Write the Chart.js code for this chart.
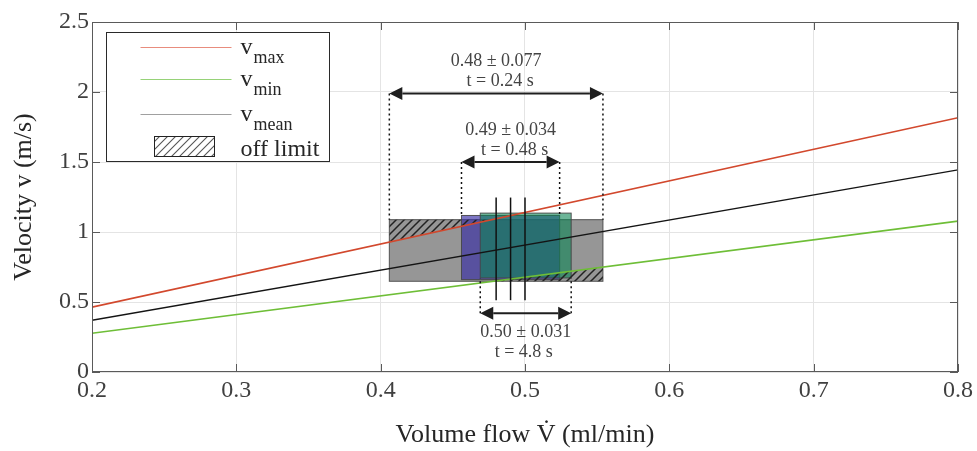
<!DOCTYPE html>
<html>
<head>
<meta charset="utf-8">
<script src="https://cdn.jsdelivr.net/npm/chart.js@4.4.0/dist/chart.umd.min.js"></script>
<style>
  html, body { margin: 0; padding: 0; background: #fff; }
  #wrap { width: 977px; height: 451px; }
</style>
</head>
<body>
<div id="wrap"><canvas id="chart"></canvas></div>
<script>
// velocity lines (linear in flow)
const flowEnds = [0.2, 0.8];
const vMax = [0.463, 1.816];
const vMean = [0.370, 1.444];
const vMin = [0.277, 1.078];

const xTicks = [0.2, 0.3, 0.4, 0.5, 0.6, 0.7, 0.8];
const yTicks = [0, 0.5, 1, 1.5, 2, 2.5];

// measuring windows: grey, blue, green
const winMean = [0.48, 0.49, 0.50];
const winStd = [0.077, 0.034, 0.031];
const winTime = ['t = 0.24 s', 't = 0.48 s', 't = 4.8 s'];
const boxFlowLo = [0.406, 0.456, 0.469];
const boxFlowHi = [0.554, 0.524, 0.532];
const boxVLo = [0.648, 0.660, 0.672];
const boxVHi = [1.088, 1.118, 1.135];
const arrowV = [1.99, 1.50, 0.42];
const meanLineV = [0.513, 1.246];

const SERIF = '"Liberation Serif", "Times New Roman", serif';
const boxFill = ['rgb(150,150,150)', 'rgba(55,45,165,0.65)', 'rgba(10,131,83,0.6)'];

function toPts(ys) {
  return flowEnds.map((x, i) => ({ x, y: ys[i] }));
}

function makeHatch(color, bg, lw) {
  const c = document.createElement('canvas');
  c.width = 8; c.height = 8;
  const g = c.getContext('2d');
  if (bg) { g.fillStyle = bg; g.fillRect(0, 0, 8, 8); }
  g.strokeStyle = color;
  g.lineWidth = lw;
  g.beginPath();
  g.moveTo(-1, 9); g.lineTo(9, -1);
  g.moveTo(-1, 1); g.lineTo(1, -1);
  g.moveTo(7, 9); g.lineTo(9, 7);
  g.stroke();
  return g.createPattern(c, 'repeat');
}

function arrow(ctx, x0, x1, y) {
  const hl = 13, hw = 6.5;
  ctx.strokeStyle = '#1e1e1e';
  ctx.fillStyle = '#1e1e1e';
  ctx.lineWidth = 2;
  ctx.beginPath();
  ctx.moveTo(x0 + hl, y); ctx.lineTo(x1 - hl, y);
  ctx.stroke();
  ctx.beginPath();
  ctx.moveTo(x0, y); ctx.lineTo(x0 + hl, y - hw); ctx.lineTo(x0 + hl, y + hw); ctx.closePath();
  ctx.moveTo(x1, y); ctx.lineTo(x1 - hl, y - hw); ctx.lineTo(x1 - hl, y + hw); ctx.closePath();
  ctx.fill();
}

function lineAt(ys, x) {
  return ys[0] + (ys[1] - ys[0]) * (x - flowEnds[0]) / (flowEnds[1] - flowEnds[0]);
}

const boxesPlugin = {
  id: 'boxes',
  beforeDatasetsDraw(chart) {
    const { ctx, chartArea: ca, scales: { x, y } } = chart;
    ctx.save();
    ctx.beginPath(); ctx.rect(ca.left, ca.top, ca.width, ca.height); ctx.clip();
    for (let i = 0; i < boxFill.length; i++) {
      const l = x.getPixelForValue(boxFlowLo[i]), r = x.getPixelForValue(boxFlowHi[i]);
      const t = y.getPixelForValue(boxVHi[i]), b = y.getPixelForValue(boxVLo[i]);
      ctx.fillStyle = boxFill[i];
      ctx.fillRect(l, t, r - l, b - t);
      ctx.strokeStyle = 'rgba(70,70,70,0.9)';
      ctx.lineWidth = 1;
      ctx.strokeRect(l, t, r - l, b - t);
    }
    // off limit hatching inside grey window
    const l = x.getPixelForValue(boxFlowLo[0]), r = x.getPixelForValue(boxFlowHi[0]);
    const t = y.getPixelForValue(boxVHi[0]), b = y.getPixelForValue(boxVLo[0]);
    ctx.save();
    ctx.beginPath(); ctx.rect(l, t, r - l, b - t); ctx.clip();
    ctx.fillStyle = makeHatch('#222', null, 1.5);
    ctx.beginPath();
    ctx.moveTo(l, y.getPixelForValue(lineAt(vMax, boxFlowLo[0])));
    ctx.lineTo(r, y.getPixelForValue(lineAt(vMax, boxFlowHi[0])));
    ctx.lineTo(r, t - 5); ctx.lineTo(l, t - 5); ctx.closePath();
    ctx.fill();
    ctx.beginPath();
    ctx.moveTo(l, y.getPixelForValue(lineAt(vMin, boxFlowLo[0])));
    ctx.lineTo(r, y.getPixelForValue(lineAt(vMin, boxFlowHi[0])));
    ctx.lineTo(r, b + 5); ctx.lineTo(l, b + 5); ctx.closePath();
    ctx.fill();
    ctx.restore();
    ctx.restore();
  },
  afterDatasetsDraw(chart) {
    const { ctx, scales: { x, y } } = chart;
    ctx.save();
    // mean lines
    ctx.strokeStyle = '#111';
    ctx.lineWidth = 1.5;
    winMean.forEach(m => {
      const px = x.getPixelForValue(m);
      ctx.beginPath();
      ctx.moveTo(px, y.getPixelForValue(meanLineV[1]));
      ctx.lineTo(px, y.getPixelForValue(meanLineV[0]));
      ctx.stroke();
    });
    // dotted guides + arrows + labels
    ctx.font = '18px ' + SERIF;
    ctx.textAlign = 'center';
    ctx.textBaseline = 'middle';
    for (let i = 0; i < winMean.length; i++) {
      const l = x.getPixelForValue(boxFlowLo[i]), r = x.getPixelForValue(boxFlowHi[i]);
      const ay = y.getPixelForValue(arrowV[i]);
      const below = arrowV[i] < boxVLo[i];
      const edge = below ? y.getPixelForValue(boxVLo[i]) : y.getPixelForValue(boxVHi[i]);
      ctx.strokeStyle = '#111';
      ctx.lineWidth = 1.5;
      ctx.setLineDash([2, 3]);
      [l, r].forEach(px => {
        ctx.beginPath(); ctx.moveTo(px, ay); ctx.lineTo(px, edge); ctx.stroke();
      });
      ctx.setLineDash([]);
      arrow(ctx, l, r, ay);
      const cx = (l + r) / 2;
      const txt = winMean[i].toFixed(2) + ' \u00b1 ' + winStd[i];
      ctx.fillStyle = '#444';
      if (below) {
        ctx.fillText(txt, cx, ay + 19);
        ctx.fillText(winTime[i], cx - 2, ay + 39);
      } else {
        ctx.fillText(txt, cx, ay - 32);
        ctx.fillText(winTime[i], cx + 4, ay - 12);
      }
    }
    ctx.restore();
  },
  afterDraw(chart) {
    const { ctx, chartArea: ca, scales: { x, y } } = chart;
    ctx.save();
    // axes box with inward ticks
    ctx.strokeStyle = '#5a5a5a';
    ctx.lineWidth = 1;
    ctx.strokeRect(ca.left + 0.5, ca.top + 0.5, ca.width - 1, ca.height - 1);
    ctx.beginPath();
    xTicks.forEach(v => {
      const px = Math.round(x.getPixelForValue(v)) + 0.5;
      ctx.moveTo(px, ca.bottom); ctx.lineTo(px, ca.bottom - 8);
      ctx.moveTo(px, ca.top); ctx.lineTo(px, ca.top + 8);
    });
    yTicks.forEach(v => {
      const py = Math.round(y.getPixelForValue(v)) + 0.5;
      ctx.moveTo(ca.left, py); ctx.lineTo(ca.left + 8, py);
      ctx.moveTo(ca.right, py); ctx.lineTo(ca.right - 8, py);
    });
    ctx.stroke();

    // legend
    const lx = Math.round(ca.left + 14) + 0.5, ly = Math.round(ca.top + 10) + 0.5, lw = 223, lh = 129;
    ctx.fillStyle = '#fff';
    ctx.fillRect(lx, ly, lw, lh);
    ctx.strokeStyle = '#2a2a2a';
    ctx.strokeRect(lx, ly, lw, lh);
    const items = [
      { sub: 'max', color: 'rgb(232,140,125)' },
      { sub: 'min', color: 'rgb(150,210,120)' },
      { sub: 'mean', color: 'rgb(160,160,160)' }
    ];
    const rowY = [15, 47, 82];
    items.forEach((it, k) => {
      const yy = ly + rowY[k];
      ctx.strokeStyle = it.color;
      ctx.lineWidth = 1;
      ctx.beginPath(); ctx.moveTo(lx + 34, yy); ctx.lineTo(lx + 125, yy); ctx.stroke();
      ctx.fillStyle = '#262626';
      ctx.textAlign = 'left';
      ctx.textBaseline = 'alphabetic';
      ctx.font = '24px ' + SERIF;
      ctx.fillText('v', lx + 134, yy + 6);
      const vw = ctx.measureText('v').width;
      ctx.font = '18px ' + SERIF;
      ctx.fillText(it.sub, lx + 134 + vw + 1, yy + 15);
    });
    const hx = lx + 48, hy = ly + 104;
    ctx.fillStyle = makeHatch('#555', '#fff', 1.1);
    ctx.fillRect(hx, hy, 60, 20);
    ctx.strokeStyle = '#222';
    ctx.lineWidth = 1;
    ctx.strokeRect(hx, hy, 60, 20);
    ctx.fillStyle = '#262626';
    ctx.font = '24px ' + SERIF;
    ctx.fillText('off limit', lx + 134, ly + 123);
    ctx.restore();
  }
};

new Chart(document.getElementById('chart'), {
  type: 'scatter',
  data: {
    datasets: [
      { label: 'v_max', data: toPts(vMax), showLine: true, borderColor: 'rgb(210,72,45)', borderWidth: 1.6, pointRadius: 0 },
      { label: 'v_min', data: toPts(vMin), showLine: true, borderColor: 'rgb(110,190,55)', borderWidth: 1.6, pointRadius: 0 },
      { label: 'v_mean', data: toPts(vMean), showLine: true, borderColor: 'rgb(20,20,20)', borderWidth: 1.4, pointRadius: 0 }
    ]
  },
  options: {
    responsive: true,
    maintainAspectRatio: false,
    animation: false,
    layout: { padding: { top: 22, right: 0, left: 0, bottom: 0 } },
    plugins: { legend: { display: false }, tooltip: { enabled: false } },
    scales: {
      x: {
        type: 'linear', min: 0.2, max: 0.8,
        afterBuildTicks: s => { s.ticks = xTicks.map(v => ({ value: v })); },
        afterFit: s => { s.height = 79; },
        grid: { color: '#e4e4e4', drawTicks: false },
        border: { display: false },
        ticks: { padding: 4, color: '#404040', font: { family: SERIF, size: 24 }, callback: v => String(v) },
        title: { display: true, text: 'Volume flow V\u0307 (ml/min)', color: '#262626', font: { family: SERIF, size: 26 }, padding: { top: 0, bottom: 0 } }
      },
      y: {
        min: 0, max: 2.5,
        afterBuildTicks: s => { s.ticks = yTicks.map(v => ({ value: v })); },
        afterFit: s => { s.width = 92; },
        grid: { color: '#e4e4e4', drawTicks: false },
        border: { display: false },
        ticks: { padding: 3, color: '#404040', font: { family: SERIF, size: 24 }, callback: v => String(v) },
        title: { display: true, text: 'Velocity v (m/s)', color: '#262626', font: { family: SERIF, size: 26 }, padding: { top: 9, bottom: 0 } }
      }
    }
  },
  plugins: [boxesPlugin]
});
</script>
</body>
</html>
